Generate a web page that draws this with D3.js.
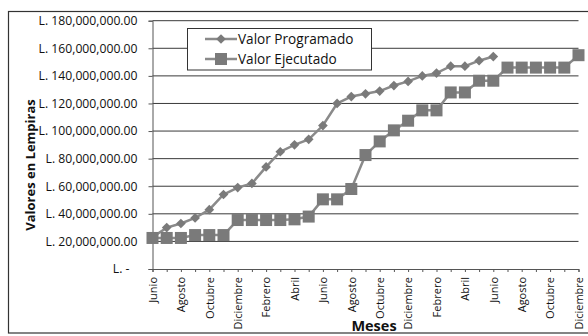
<!DOCTYPE html>
<html>
<head>
<meta charset="utf-8">
<script src="https://cdn.jsdelivr.net/npm/d3@7"></script>
<style>
  html, body { margin: 0; padding: 0; background: #fff; }
  svg { display: block; }
  text { font-family: "Open Sans", "Liberation Sans", sans-serif; fill: #111; }
</style>
</head>
<body>
<svg id="chart" width="588" height="336"></svg>
<script>
// Meses del periodo (junio a diciembre del tercer año)
const meses = [
  "Junio","Julio","Agosto","Septiembre","Octubre","Noviembre","Diciembre",
  "Enero","Febrero","Marzo","Abril","Mayo","Junio",
  "Julio","Agosto","Septiembre","Octubre","Noviembre","Diciembre",
  "Enero","Febrero","Marzo","Abril","Mayo","Junio",
  "Julio","Agosto","Septiembre","Octubre","Noviembre","Diciembre"
];

// Valores acumulados en millones de lempiras
const valorProgramado = [
  23, 30, 33, 37, 43, 54, 59, 62, 74, 85, 90, 94, 104,
  120, 125, 127, 129, 133, 136, 140, 142, 147, 147, 151, 154
];
const valorEjecutado = [
  22.5, 22.5, 22.5, 24.6, 24.6, 24.6, 35.5, 35.5, 35.5, 35.5, 36, 38, 50.5,
  50.5, 58, 82.6, 92.5, 100.5, 107.5, 115, 115, 128, 128, 136.5, 136.5,
  146, 146, 146, 146, 146, 155
];

const yTicks = [0, 20, 40, 60, 80, 100, 120, 140, 160, 180];
const series = [
  { name: "Valor Programado", values: valorProgramado, marker: "diamond" },
  { name: "Valor Ejecutado", values: valorEjecutado, marker: "square" }
];

const svg = d3.select("#chart");
const plot = { left: 152.5, right: 578.5, top: 20.7, bottom: 269 };

// Marco exterior del gráfico
svg.append("rect")
  .attr("x", 8.5).attr("y", 11.5)
  .attr("width", 590).attr("height", 321.5)
  .attr("fill", "#fff").attr("stroke", "#333").attr("stroke-width", 1.2);

const x = d3.scaleLinear().domain([0, meses.length - 1]).range([plot.left, plot.right]);
const y = d3.scaleLinear().domain([0, 180]).range([plot.bottom, plot.top]);

// Líneas de cuadrícula horizontales
svg.append("g")
  .selectAll("line")
  .data(yTicks.filter(d => d > 0))
  .join("line")
  .attr("x1", plot.left).attr("x2", plot.right)
  .attr("y1", d => y(d)).attr("y2", d => y(d))
  .attr("stroke", "#3a3a3a").attr("stroke-width", 1);

// Eje Y
const fmt = d3.format(",.2f");
const yAxis = svg.append("g")
  .attr("transform", `translate(${plot.left},0)`)
  .call(d3.axisLeft(y).tickValues(yTicks).tickSize(4).tickPadding(11)
    .tickFormat(d => d === 0 ? "L. -" : "L. " + fmt(d * 1e6)));
yAxis.select(".domain").attr("stroke", "#555");
yAxis.selectAll(".tick line").attr("stroke", "#555");
yAxis.selectAll("text")
  .style("font-size", "12.2px")
  .attr("fill", "#111");
yAxis.selectAll(".tick").filter(d => d === 0).select("text").attr("dx", -8);

// Eje X
const xAxis = svg.append("g")
  .attr("transform", `translate(0,${plot.bottom})`)
  .call(d3.axisBottom(x).tickValues(d3.range(meses.length)).tickSize(3)
    .tickFormat(i => i % 2 === 0 ? meses[i] : ""));
xAxis.select(".domain").attr("stroke", "#555");
xAxis.selectAll(".tick line").attr("stroke", "#555");
xAxis.selectAll("text")
  .style("font-size", "11px")
  .attr("fill", "#111")
  .attr("text-anchor", "end")
  .attr("transform", "rotate(-90)")
  .attr("x", -8).attr("y", 0).attr("dy", "0.35em");

// Títulos de ejes
svg.append("text")
  .attr("transform", `translate(35,165) rotate(-90)`)
  .attr("text-anchor", "middle")
  .style("font-size", "13px").style("font-weight", "bold")
  .text("Valores en Lempiras");
svg.append("text")
  .attr("x", 374).attr("y", 331)
  .attr("text-anchor", "middle")
  .style("font-size", "14.5px").style("font-weight", "bold")
  .text("Meses");

// Series
const lineGen = d3.line().x((d, i) => x(i)).y(d => y(d));
const lineColor = "#8a8a8a";
const markerColor = "#7a7a7a";

function drawMarker(g, type, cx, cy) {
  if (type === "square") {
    g.append("rect").attr("x", cx - 6).attr("y", cy - 6)
      .attr("width", 12).attr("height", 12)
      .attr("fill", markerColor);
  } else {
    g.append("path")
      .attr("d", d3.symbol(d3.symbolDiamond2, 60)())
      .attr("transform", `translate(${cx},${cy})`)
      .attr("fill", markerColor);
  }
}

series.forEach(s => {
  const g = svg.append("g");
  g.append("path").datum(s.values)
    .attr("d", lineGen)
    .attr("fill", "none").attr("stroke", lineColor).attr("stroke-width", 2.5);
  s.values.forEach((v, i) => drawMarker(g, s.marker, x(i), y(v)));
});

// Leyenda
const legend = svg.append("g");
legend.append("rect")
  .attr("x", 187.5).attr("y", 28.5).attr("width", 184).attr("height", 41.5)
  .attr("fill", "#fff").attr("stroke", "#333").attr("stroke-width", 1);
series.forEach((s, k) => {
  const cy = 39 + k * 20;
  legend.append("line")
    .attr("x1", 205).attr("x2", 237).attr("y1", cy).attr("y2", cy)
    .attr("stroke", lineColor).attr("stroke-width", 2.5);
  drawMarker(legend, s.marker, 221, cy);
  legend.append("text")
    .attr("x", 238).attr("y", cy).attr("dy", "0.36em")
    .style("font-size", "13.6px")
    .text(s.name);
});
</script>
</body>
</html>
